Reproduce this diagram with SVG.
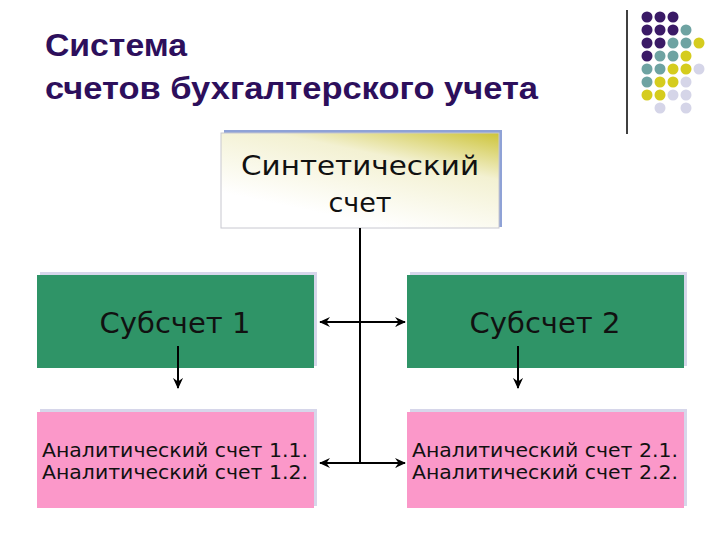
<svg xmlns="http://www.w3.org/2000/svg" width="720" height="540" viewBox="0 0 720 540">
  <defs>
    <linearGradient id="synGrad" x1="1" y1="0" x2="0.45" y2="0.9">
      <stop offset="0" stop-color="#cdc43a"/>
      <stop offset="0.4" stop-color="#f3f1d2"/>
      <stop offset="1" stop-color="#ffffff"/>
    </linearGradient>
    <marker id="arr" viewBox="0 0 12 12" refX="11" refY="6" markerWidth="11" markerHeight="11" orient="auto-start-reverse" markerUnits="userSpaceOnUse">
      <path d="M0,0.5 L12,6 L0,11.5 L4,6 Z" fill="#000"/>
    </marker>
  </defs>
  <style>
    .title { font-family: "Liberation Sans", Arial, sans-serif; font-weight: bold; font-size: 31px; fill: #2d0f5c; }
    .lbl { font-family: "DejaVu Sans", Verdana, sans-serif; fill: #111; }
    .syn { font-size: 27px; }
    .sub { font-size: 29px; }
    .an { font-size: 20px; }
    .shadow { fill: #d6d6ea; }
    .green { fill: #2f9467; }
    .pink { fill: #fb98c9; }
    .conn { stroke: #000; stroke-width: 2; fill: none; }
  </style>
  <rect width="720" height="540" fill="#ffffff"/>

  <g id="title">
    <text class="title" x="45" y="56" textLength="142" lengthAdjust="spacingAndGlyphs">Система</text>
    <text class="title" x="45" y="99" textLength="493" lengthAdjust="spacingAndGlyphs">счетов бухгалтерского учета</text>
  </g>

  <g id="decor">
    <line x1="627" y1="10" x2="627" y2="134" stroke="#000" stroke-width="1.5"/>
    <g fill="#3a1a66">
      <circle cx="647" cy="17" r="5.5"/><circle cx="660" cy="17" r="5.5"/><circle cx="673" cy="17" r="5.5"/>
      <circle cx="647" cy="30" r="5.5"/><circle cx="660" cy="30" r="5.5"/><circle cx="673" cy="30" r="5.5"/>
      <circle cx="647" cy="43" r="5.5"/><circle cx="660" cy="43" r="5.5"/>
      <circle cx="647" cy="56" r="5.5"/>
    </g>
    <g fill="#6ea3a2">
      <circle cx="686" cy="30" r="5.5"/>
      <circle cx="673" cy="43" r="5.5"/><circle cx="686" cy="43" r="5.5"/>
      <circle cx="660" cy="56" r="5.5"/><circle cx="673" cy="56" r="5.5"/>
      <circle cx="647" cy="69" r="5.5"/><circle cx="660" cy="69" r="5.5"/>
      <circle cx="647" cy="82" r="5.5"/>
    </g>
    <g fill="#d5cc1e">
      <circle cx="699" cy="43" r="5.5"/>
      <circle cx="686" cy="56" r="5.5"/>
      <circle cx="673" cy="69" r="5.5"/><circle cx="686" cy="69" r="5.5"/>
      <circle cx="660" cy="82" r="5.5"/><circle cx="673" cy="82" r="5.5"/>
      <circle cx="647" cy="95" r="5.5"/><circle cx="660" cy="95" r="5.5"/>
    </g>
    <g fill="#d5d5e8">
      <circle cx="699" cy="69" r="5.5"/>
      <circle cx="686" cy="82" r="5.5"/>
      <circle cx="673" cy="95" r="5.5"/><circle cx="686" cy="95" r="5.5"/>
      <circle cx="660" cy="108" r="5.5"/><circle cx="686" cy="108" r="5.5"/>
    </g>
  </g>

  <g id="synthetic">
    <rect x="224" y="130" width="278" height="97" fill="#8fa2d6"/>
    <rect x="221" y="133" width="278" height="95" fill="url(#synGrad)" stroke="#c8c8d0" stroke-width="1"/>
    <text class="lbl syn" x="360" y="175" text-anchor="middle" textLength="238" lengthAdjust="spacingAndGlyphs">Синтетический</text>
    <text class="lbl syn" x="360" y="212" text-anchor="middle">счет</text>
  </g>

  <g id="sub1">
    <rect class="shadow" x="40" y="272" width="277" height="94"/>
    <rect class="green" x="37" y="275" width="277" height="93"/>
    <text class="lbl sub" x="175" y="333" text-anchor="middle">Субсчет 1</text>
  </g>

  <g id="sub2">
    <rect class="shadow" x="410" y="272" width="277" height="94"/>
    <rect class="green" x="407" y="275" width="277" height="93"/>
    <text class="lbl sub" x="545" y="333" text-anchor="middle">Субсчет 2</text>
  </g>

  <g id="anal1">
    <rect class="shadow" x="40" y="409" width="277" height="97"/>
    <rect class="pink" x="37" y="412" width="277" height="96"/>
    <text class="lbl an" x="42" y="457" textLength="266" lengthAdjust="spacingAndGlyphs">Аналитический счет 1.1.</text>
    <text class="lbl an" x="42" y="479" textLength="266" lengthAdjust="spacingAndGlyphs">Аналитический счет 1.2.</text>
  </g>

  <g id="anal2">
    <rect class="shadow" x="410" y="409" width="277" height="97"/>
    <rect class="pink" x="407" y="412" width="277" height="96"/>
    <text class="lbl an" x="412" y="457" textLength="266" lengthAdjust="spacingAndGlyphs">Аналитический счет 2.1.</text>
    <text class="lbl an" x="412" y="479" textLength="266" lengthAdjust="spacingAndGlyphs">Аналитический счет 2.2.</text>
  </g>

  <g id="connectors">
    <line class="conn" x1="360" y1="228" x2="360" y2="463"/>
    <line class="conn" x1="320" y1="322" x2="405" y2="322" marker-start="url(#arr)" marker-end="url(#arr)"/>
    <line class="conn" x1="320" y1="463" x2="405" y2="463" marker-start="url(#arr)" marker-end="url(#arr)"/>
    <line class="conn" x1="178" y1="346" x2="178" y2="388" marker-end="url(#arr)"/>
    <line class="conn" x1="518" y1="346" x2="518" y2="388" marker-end="url(#arr)"/>
  </g>
</svg>
